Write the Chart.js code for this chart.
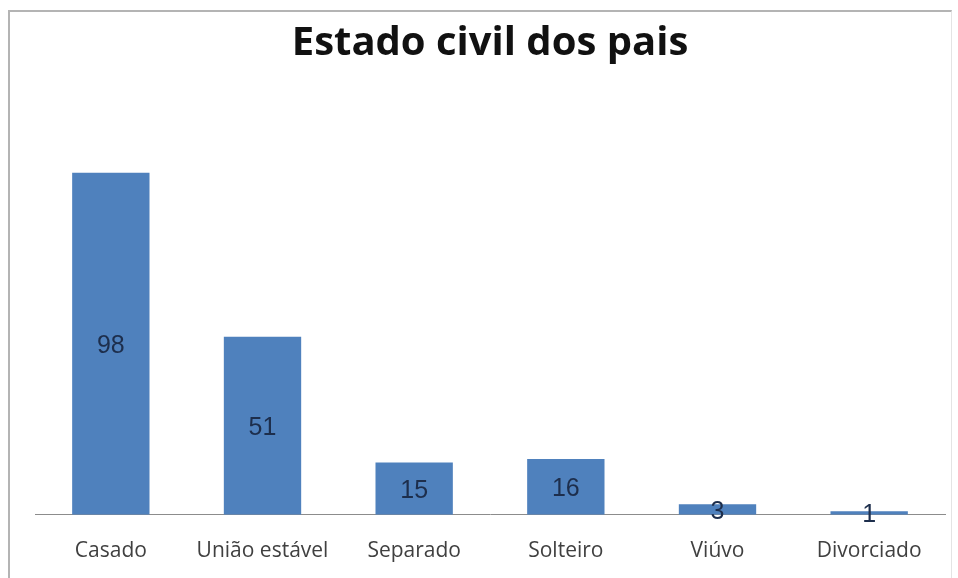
<!DOCTYPE html>
<html>
<head>
<meta charset="utf-8">
<script src="https://cdn.jsdelivr.net/npm/chart.js@4/dist/chart.umd.min.js"></script>
<style>
  html, body { margin: 0; padding: 0; background: #fff; overflow: hidden; }
  #wrap { position: relative; width: 958px; height: 578px; overflow: hidden; }
  #frame {
    position: absolute; left: 8px; top: 10px; width: 944px; height: 600px;
    border-top: 2px solid #b4b4b4; border-left: 2px solid #b4b4b4; border-right: 1px solid #e4e4e4;
    box-sizing: border-box;
  }
  canvas { position: absolute; left: 0; top: 0; }
</style>
</head>
<body>
<div id="wrap">
  <div id="frame"></div>
  <canvas id="estadoCivil" width="958" height="600"></canvas>
</div>
<script>
const categorias = ["Casado", "União estável", "Separado", "Solteiro", "Viúvo", "Divorciado"];
const quantidades = [98, 51, 15, 16, 3, 1];

// write each value in the middle of its bar
const rotulosBarras = {
  id: 'rotulosBarras',
  afterDatasetsDraw(chart) {
    const ctx = chart.ctx;
    const meta = chart.getDatasetMeta(0);
    const tam = 25;
    ctx.save();
    ctx.font = tam + 'px "Liberation Sans", Arial, sans-serif';
    ctx.fillStyle = '#1d2e4c';
    ctx.textAlign = 'center';
    ctx.textBaseline = 'alphabetic';
    meta.data.forEach((bar, i) => {
      const y = (bar.y + bar.base) / 2;
      ctx.fillText(String(quantidades[i]), bar.x, y + tam * 0.716 / 2);
    });
    ctx.restore();
  }
};

const config_estado = {
  type: 'bar',
  data: {
    labels: categorias,
    datasets: [{
      label: 'Estado civil',
      data: quantidades,
      backgroundColor: 'rgb(79,129,189)',
      borderWidth: 0,
      categoryPercentage: 1,
      barPercentage: 0.51
    }]
  },
  options: {
    responsive: false,
    animation: false,
    layout: { padding: { left: 35, right: 13, top: 0, bottom: 20 } },
    plugins: {
      legend: { display: false },
      tooltip: { enabled: false },
      title: {
        display: true,
        text: 'Estado civil dos pais',
        color: '#111',
        font: { family: '"Open Sans", Lato, sans-serif', size: 40, weight: 'bold' },
        padding: { top: 20, bottom: 28 }
      }
    },
    scales: {
      x: {
        grid: { display: false },
        border: { display: true, color: '#8c8c8c', width: 1 },
        ticks: {
          color: '#404040',
          padding: 16,
          maxRotation: 0,
          font: { family: '"Open Sans", Lato, sans-serif', size: 21 }
        }
      },
      y: {
        display: false,
        min: 0,
        max: 120
      }
    }
  },
  plugins: [rotulosBarras]
};

const ctx_estado = document.getElementById('estadoCivil').getContext('2d');
const grafico_estado = new Chart(ctx_estado, config_estado);
</script>
</body>
</html>
